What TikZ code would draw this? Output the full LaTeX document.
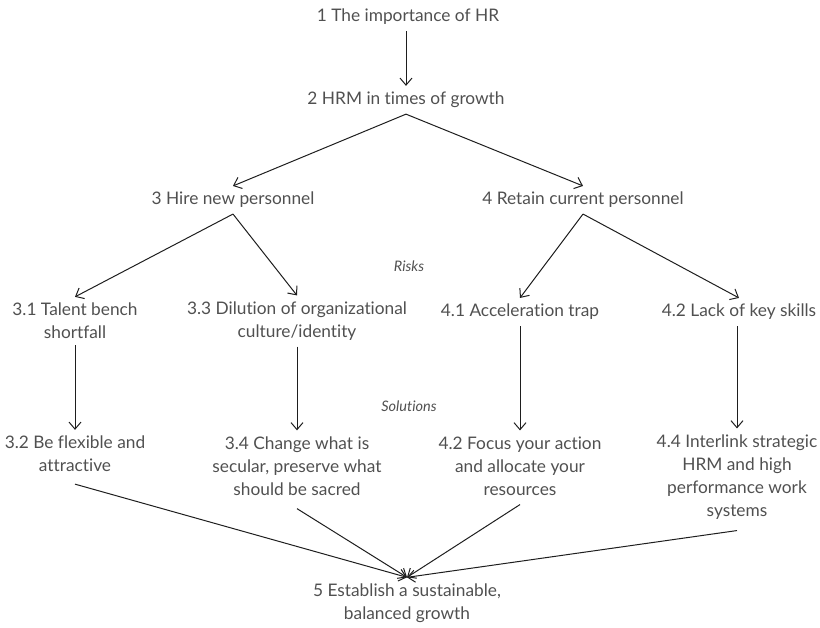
\documentclass[tikz,border=0pt]{standalone}
\usepackage{fontspec}
\setmainfont{Lato}[Ligatures={NoCommon,NoRare,NoDiscretionary}]
\usetikzlibrary{arrows.meta}
\definecolor{txt}{HTML}{505050}
\definecolor{ln}{HTML}{1E1E1E}
\tikzset{
  lbl/.style={inner xsep=0pt, inner ysep=6pt, align=center, text=txt,
    font=\fontsize{17.3}{23}\selectfont},
  tag/.style={inner sep=0pt, text=txt, font=\fontsize{14.5}{16}\selectfont\itshape},
  conn/.style={draw=ln, line width=1pt},
  arr/.style={conn, -{Straight Barb[length=7pt,width=12pt]}}
}
\begin{document}
\begin{tikzpicture}[x=1pt,y=-1pt]
  \useasboundingbox (0,0) rectangle (820,628);

  % top chain
  \node[lbl] (n1) at (408,17) {1 The importance of HR};
  \node[lbl] (n2) at (406,100) {2 HRM in times of growth};
  \node[lbl] (n3) at (233,200) {3 Hire new personnel};
  \node[lbl] (n4) at (583,200) {4 Retain current personnel};

  % risks
  \node[tag] (risks) at (409,266) {Risks};
  \node[lbl] (n31) at (75,321) {3.1 Talent bench\\shortfall};
  \node[lbl] (n33) at (297,321) {3.3 Dilution of organizational\\culture/identity};
  \node[lbl] (n41) at (520,312) {4.1 Acceleration trap};
  \node[lbl] (n42) at (739,312) {4.2 Lack of key skills};

  % solutions
  \node[tag] (solutions) at (409,406) {Solutions};
  \node[lbl] (n32) at (75,454) {3.2 Be flexible and\\attractive};
  \node[lbl] (n34) at (297,466) {3.4 Change what is\\secular, preserve what\\should be sacred};
  \node[lbl] (n42s) at (520,466) {4.2 Focus your action\\and allocate your\\resources};
  \node[lbl] (n44) at (737,477) {4.4 Interlink strategic\\HRM and high\\performance work\\systems};

  % outcome
  \node[lbl] (n5) at (407,603) {5 Establish a sustainable,\\balanced growth};

  % connectors
  \draw[arr] (n1.south -| n2.north) -- (n2.north);
  \draw[arr] (n2.south) -- (n3.north);
  \draw[arr] (n2.south) -- (n4.north);
  \draw[arr] (n3.south) -- (n31.north);
  \draw[arr] (n3.south) -- (n33.north);
  \draw[arr] (n4.south) -- (n41.north);
  \draw[arr] (n4.south) -- (n42.north);
  \draw[arr] (n31.south) -- (n32.north);
  \draw[arr] (n33.south) -- (n34.north);
  \draw[arr] (n41.south) -- (n42s.north);
  \draw[arr] (n42.south -| n44.north) -- (n44.north);
  \draw[arr] ([yshift=-6pt]n32.south) -- (n5.north);
  \draw[arr] ([yshift=-7pt]n34.south) -- (n5.north);
  \draw[arr] ([yshift=-3pt]n42s.south) -- (n5.north);
  \draw[arr] ([yshift=-5pt]n44.south) -- (n5.north);
\end{tikzpicture}
\end{document}
